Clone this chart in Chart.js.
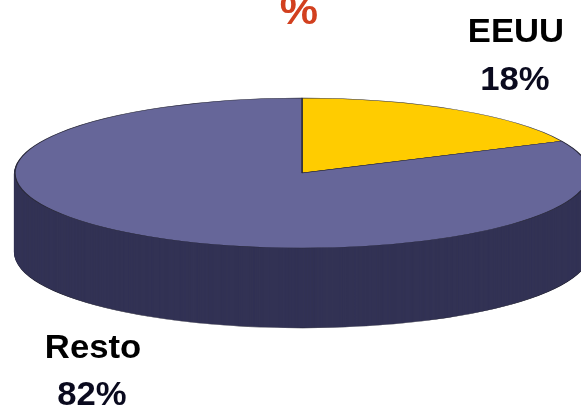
<!DOCTYPE html>
<html lang="es">
<head>
    <meta charset="UTF-8">
    <title>EEUU y Resto</title>
    <script src="https://cdn.jsdelivr.net/npm/chart.js"></script>
    <style>
        html, body { margin: 0; padding: 0; background: #fff; overflow: hidden; }
        canvas { display: block; }
    </style>
</head>
<body>
    <canvas id="pieChart" width="581" height="406"></canvas>
    <script>
        // Datos
        const categories = ['EEUU', 'Resto'];
        const shares = [18, 82];
        const topColors = ['#FFCC00', '#666699'];
        const sideColors = ['#333355', '#333355'];
        const cutOffLabel = '%';

        // Disco en perspectiva
        const disc = { cx: 302, cy: 173, rx: 287, ry: 75, depth: 80 };

        function applyDisc(ctx, arc, dy) {
            ctx.translate(disc.cx, disc.cy + dy);
            ctx.scale(disc.rx / arc.outerRadius, disc.ry / arc.outerRadius);
            ctx.translate(-arc.x, -arc.y);
        }

        function drawText(ctx, text, x, y, font, color) {
            ctx.save();
            ctx.translate(x, y);
            ctx.scale(1.05, 1);
            ctx.font = font;
            ctx.fillStyle = color;
            ctx.textAlign = 'center';
            ctx.textBaseline = 'alphabetic';
            ctx.fillText(text, 0, 0);
            ctx.restore();
        }

        const discPlugin = {
            id: 'disc',
            beforeDatasetDraw(chart) {
                const ctx = chart.ctx;
                const arcs = chart.getDatasetMeta(0).data;
                // pared lateral: la misma porción repetida hacia abajo
                for (let dy = disc.depth; dy > 0; dy--) {
                    arcs.forEach((arc, i) => {
                        const original = arc.options;
                        arc.options = Object.assign({}, original, {
                            backgroundColor: sideColors[i],
                            borderColor: dy === disc.depth ? '#1a1a2a' : sideColors[i],
                            borderWidth: dy === disc.depth ? 1 : 1.5
                        });
                        ctx.save();
                        applyDisc(ctx, arc, dy);
                        arc.draw(ctx);
                        ctx.restore();
                        arc.options = original;
                    });
                }
                ctx.save();
                applyDisc(ctx, arcs[0], 0);
            },
            afterDatasetDraw(chart) {
                chart.ctx.restore();
            },
            afterDraw(chart) {
                const ctx = chart.ctx;
                const bold = 'bold 33px "Liberation Sans", Arial, sans-serif';
                drawText(ctx, cutOffLabel, 299, 24, 'bold 41px "Liberation Sans", Arial, sans-serif', '#d2401f');
                drawText(ctx, categories[0], 516, 42, bold, '#000');
                drawText(ctx, shares[0] + '%', 515, 90, bold, '#0a0a1e');
                drawText(ctx, categories[1], 93, 358, bold, '#000');
                drawText(ctx, shares[1] + '%', 92, 405, bold, '#0a0a1e');
            }
        };

        new Chart(document.getElementById('pieChart'), {
            type: 'pie',
            data: {
                labels: categories,
                datasets: [{
                    data: shares,
                    backgroundColor: topColors,
                    borderColor: '#2a2a3a',
                    borderWidth: 1
                }]
            },
            options: {
                responsive: false,
                animation: false,
                plugins: { legend: { display: false }, tooltip: { enabled: false } }
            },
            plugins: [discPlugin]
        });
    </script>
</body>
</html>
